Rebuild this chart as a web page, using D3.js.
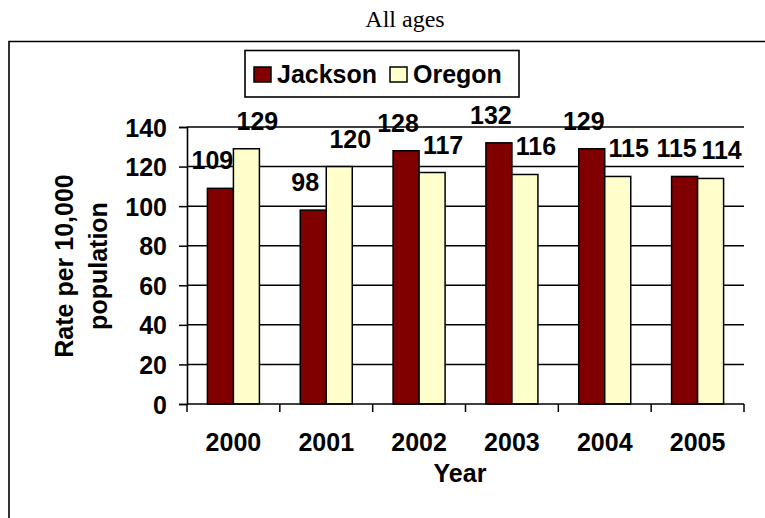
<!DOCTYPE html>
<html>
<head>
<meta charset="utf-8">
<script src="https://cdn.jsdelivr.net/npm/d3@7"></script>
<style>
  html, body { margin: 0; padding: 0; background: #fff; }
  svg { display: block; }
  text { font-family: "Liberation Sans", Arial, sans-serif; font-weight: bold; fill: #000; }
</style>
</head>
<body>
<svg id="chart" width="765" height="518"></svg>
<script>
const years = ["2000", "2001", "2002", "2003", "2004", "2005"];
const seriesNames = ["Jackson", "Oregon"];
const jackson = [109, 98, 128, 132, 129, 115];
const oregon = [129, 120, 117, 116, 115, 114];
const yTicks = [0, 20, 40, 60, 80, 100, 120, 140];
const colors = ["#800000", "#FFFFCC"];
const titleText = "All ages";
const xTitle = "Year";
const yTitleLines = ["Rate per 10,000", "population"];

const svg = d3.select("#chart");
const W = 765, H = 518;
const plot = { left: 187, right: 744, top: 127, bottom: 404 };
const FS = 25;

// outer frame (top + left edges visible)
svg.append("path")
  .attr("d", `M9,518 V41.5 H765`)
  .attr("fill", "none").attr("stroke", "#000").attr("stroke-width", 1.6);

// title
svg.append("text")
  .attr("x", 405).attr("y", 27)
  .attr("text-anchor", "middle")
  .style("font-family", "'Liberation Serif', 'Times New Roman', serif")
  .style("font-weight", "normal")
  .style("font-size", "24px")
  .text(titleText);

const x0 = d3.scaleBand().domain(years).range([plot.left, plot.right]).paddingInner(0).paddingOuter(0);
const x1 = d3.scaleBand().domain(seriesNames).range([0, x0.bandwidth()]).paddingInner(0).paddingOuter(0.785);
const y = d3.scaleLinear().domain([0, 140]).range([plot.bottom, plot.top]);

// gridlines
svg.append("g").selectAll("line").data(yTicks.filter(d => d > 0)).join("line")
  .attr("x1", plot.left).attr("x2", plot.right)
  .attr("y1", d => y(d)).attr("y2", d => y(d))
  .attr("stroke", "#000").attr("stroke-width", 1.5);

// bars
const table = years.map((yr, i) => ({ year: yr, values: [jackson[i], oregon[i]] }));
const groups = svg.append("g").selectAll("g").data(table).join("g")
  .attr("transform", d => `translate(${x0(d.year)},0)`);
groups.selectAll("rect").data(d => d.values.map((v, k) => ({ key: seriesNames[k], v, k }))).join("rect")
  .attr("x", d => x1(d.key))
  .attr("width", x1.bandwidth())
  .attr("y", d => y(d.v))
  .attr("height", d => y(0) - y(d.v))
  .attr("fill", d => colors[d.k])
  .attr("stroke", "#000").attr("stroke-width", 1.5);

// data labels (Excel-like offsets per series)
const labelDx = [-8, 11];
groups.selectAll("text.lbl").data(d => d.values.map((v, k) => ({ key: seriesNames[k], v, k }))).join("text")
  .attr("class", "lbl")
  .attr("x", d => x1(d.key) + x1.bandwidth() / 2 + labelDx[d.k])
  .attr("y", d => y(d.v) - 19)
  .attr("text-anchor", "middle")
  .style("font-size", FS + "px")
  .text(d => d.v);

// y axis
const yAxis = d3.axisLeft(y).tickValues(yTicks).tickSize(8).tickPadding(12);
const gy = svg.append("g").attr("transform", `translate(${plot.left},0)`).call(yAxis);
gy.select(".domain").attr("stroke", "#000").attr("stroke-width", 1.6);
gy.selectAll(".tick line").attr("stroke", "#000").attr("stroke-width", 1.5);
gy.selectAll(".tick text").style("font-size", FS + "px").attr("dy", "0.36em")
  .style("font-family", "'Liberation Sans', Arial, sans-serif").style("font-weight", "bold");

// x axis
const gx = svg.append("g").attr("transform", `translate(0,${plot.bottom})`);
gx.append("line").attr("x1", plot.left).attr("x2", plot.right).attr("y1", 0).attr("y2", 0)
  .attr("stroke", "#000").attr("stroke-width", 1.6);
const bounds = years.map(d => x0(d)).concat([x0(years[years.length - 1]) + x0.bandwidth()]);
gx.selectAll("line.tk").data(bounds).join("line").attr("class", "tk")
  .attr("x1", d => d).attr("x2", d => d).attr("y1", 0).attr("y2", 8)
  .attr("stroke", "#000").attr("stroke-width", 1.5);
const xAxis = d3.axisBottom(x0).tickSize(0).tickPadding(0);
const gxl = svg.append("g").attr("transform", `translate(0,${plot.bottom})`).call(xAxis);
gxl.select(".domain").remove();
gxl.selectAll(".tick text").attr("y", 47).attr("dy", 0).style("font-size", FS + "px")
  .style("font-family", "'Liberation Sans', Arial, sans-serif").style("font-weight", "bold");

// axis titles
svg.append("text").attr("x", 460).attr("y", 482).attr("text-anchor", "middle")
  .style("font-size", FS + "px").text(xTitle);

const yt = svg.append("text").attr("transform", `translate(0,266) rotate(-90)`)
  .attr("text-anchor", "middle").style("font-size", FS + "px");
yt.selectAll("tspan").data(yTitleLines).join("tspan")
  .attr("x", 0).attr("y", (d, i) => 73 + i * 34).text(d => d);

// legend
const lg = svg.append("g");
lg.append("rect").attr("x", 245).attr("y", 50.5).attr("width", 274).attr("height", 46.5)
  .attr("fill", "#fff").attr("stroke", "#000").attr("stroke-width", 1.6);
const legendX = [254, 390];
const li = lg.selectAll("g").data(seriesNames).join("g")
  .attr("transform", (d, i) => `translate(${legendX[i]},0)`);
li.append("rect").attr("x", 0).attr("y", 67).attr("width", 17).attr("height", 15)
  .attr("fill", (d, i) => colors[i]).attr("stroke", "#000").attr("stroke-width", 1.5);
li.append("text").attr("x", 23).attr("y", 83).style("font-size", FS + "px").text(d => d);
</script>
</body>
</html>
